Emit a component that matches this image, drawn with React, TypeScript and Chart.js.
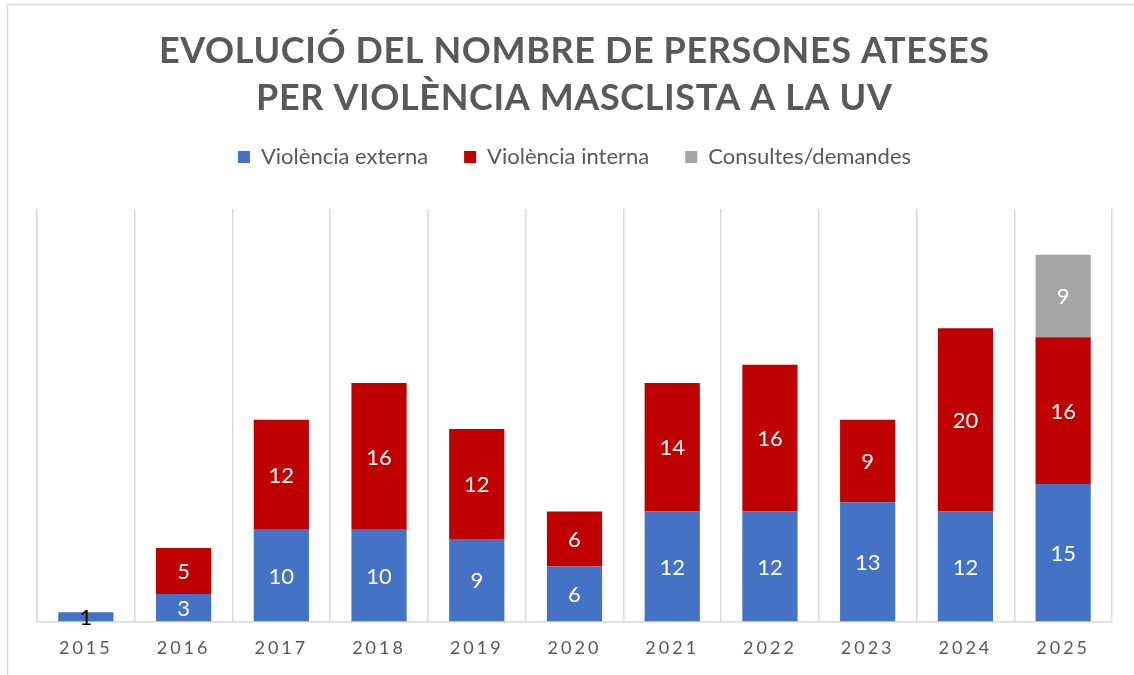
import React, { useEffect, useRef } from "react";
import { Chart, registerables } from "chart.js";

Chart.register(...registerables);

const titleLines = [
  "EVOLUCIÓ DEL NOMBRE DE PERSONES ATESES",
  "PER VIOLÈNCIA MASCLISTA A LA UV",
];
const years = ["2015", "2016", "2017", "2018", "2019", "2020", "2021", "2022", "2023", "2024", "2025"];
const externa = [1, 3, 10, 10, 9, 6, 12, 12, 13, 12, 15];
const interna = [null, 5, 12, 16, 12, 6, 14, 16, 9, 20, 16];
const consultes = [null, null, null, null, null, null, null, null, null, null, 9];
const seriesNames = ["Violència externa", "Violència interna", "Consultes/demandes"];
const yMax = 45;

const GRAY_TEXT = "#595959";
const GRID = "#d9d9d9";

const framePlugin = {
  id: "frame",
  beforeDraw(chart: any) {
    const ctx = chart.ctx;
    ctx.letterSpacing = "0px";
    ctx.save();
    ctx.strokeStyle = GRID;
    ctx.lineWidth = 1.5;
    ctx.beginPath();
    ctx.moveTo(7.5, chart.height);
    ctx.lineTo(7.5, 4.5);
    ctx.lineTo(chart.width, 4.5);
    ctx.stroke();
    ctx.restore();
  },
  afterDatasetsDraw(chart: any) {
    const ctx = chart.ctx;
    ctx.save();
    ctx.letterSpacing = "0px";
    ctx.font = "22px Lato";
    ctx.textAlign = "center";
    ctx.textBaseline = "middle";
    chart.data.datasets.forEach((ds: any, i: number) => {
      const meta = chart.getDatasetMeta(i);
      meta.data.forEach((el: any, j: number) => {
        const v = ds.data[j];
        if (v === null || v === undefined || v === 0) return;
        const { x, y, base } = el.getProps(["x", "y", "base"], true);
        const h = Math.abs(base - y);
        ctx.fillStyle = h < 16 ? "#000000" : "#ffffff";
        ctx.fillText(String(v), x, (y + base) / 2 + 1);
      });
    });
    ctx.restore();
    ctx.letterSpacing = "3px";
  },
  afterDraw(chart: any) {
    const ctx = chart.ctx;
    ctx.letterSpacing = "0px";
    ctx.save();
    ctx.font = "bold 36px Lato";
    ctx.fillStyle = GRAY_TEXT;
    ctx.textAlign = "center";
    ctx.textBaseline = "alphabetic";
    const w0 = ctx.measureText(titleLines[0]).width;
    const sp = (830 - w0) / (titleLines[0].length - 1);
    ctx.letterSpacing = sp + "px";
    const cx = 574 + sp / 2;
    ctx.fillText(titleLines[0], cx, 63);
    ctx.fillText(titleLines[1], cx, 110);
    ctx.restore();
    ctx.letterSpacing = "0px";
  },
};

export default function App() {
  const ref = useRef<HTMLCanvasElement | null>(null);

  useEffect(() => {
    if (!ref.current) return;
    const chart = new Chart(ref.current, {
      type: "bar",
      data: {
        labels: years,
        datasets: [
          { label: seriesNames[0], data: externa, backgroundColor: "#4472C4", borderWidth: 0 },
          { label: seriesNames[1], data: interna, backgroundColor: "#C00000", borderWidth: 0 },
          { label: seriesNames[2], data: consultes, backgroundColor: "#A5A5A5", borderWidth: 0 },
        ],
      },
      options: {
        responsive: false,
        animation: false,
        layout: { padding: { top: 110, left: 37, right: 22, bottom: 0 } },
        datasets: { bar: { categoryPercentage: 1, barPercentage: 0.565 } },
        plugins: {
          title: { display: false },
          tooltip: { enabled: false },
          legend: {
            display: true,
            position: "top",
            labels: {
              boxWidth: 12,
              boxHeight: 12,
              padding: 36,
              color: GRAY_TEXT,
              font: { family: "Lato", size: 22 },
            },
          },
        },
        scales: {
          x: {
            stacked: true,
            grid: { offset: true, color: GRID, lineWidth: 1.5, drawTicks: false },
            border: { color: GRID, width: 1.5 },
            ticks: { color: GRAY_TEXT, font: { family: "Lato", size: 18 }, padding: 16, z: 1 },
          },
          x2: {
            type: "category",
            position: "top",
            display: true,
            grid: { display: false },
            border: { display: false },
            ticks: { display: false },
            afterFit: (s: any) => {
              s.height = 31;
            },
          },
          y: {
            stacked: true,
            display: false,
            min: 0,
            max: yMax,
          },
        },
      } as any,
      plugins: [framePlugin],
    });
    return () => chart.destroy();
  }, []);

  return (
    <div style={{ position: "fixed", left: 0, top: 0, width: 1134, height: 675, background: "#fff" }}>
      <canvas ref={ref} width={1134} height={675} />
    </div>
  );
}
